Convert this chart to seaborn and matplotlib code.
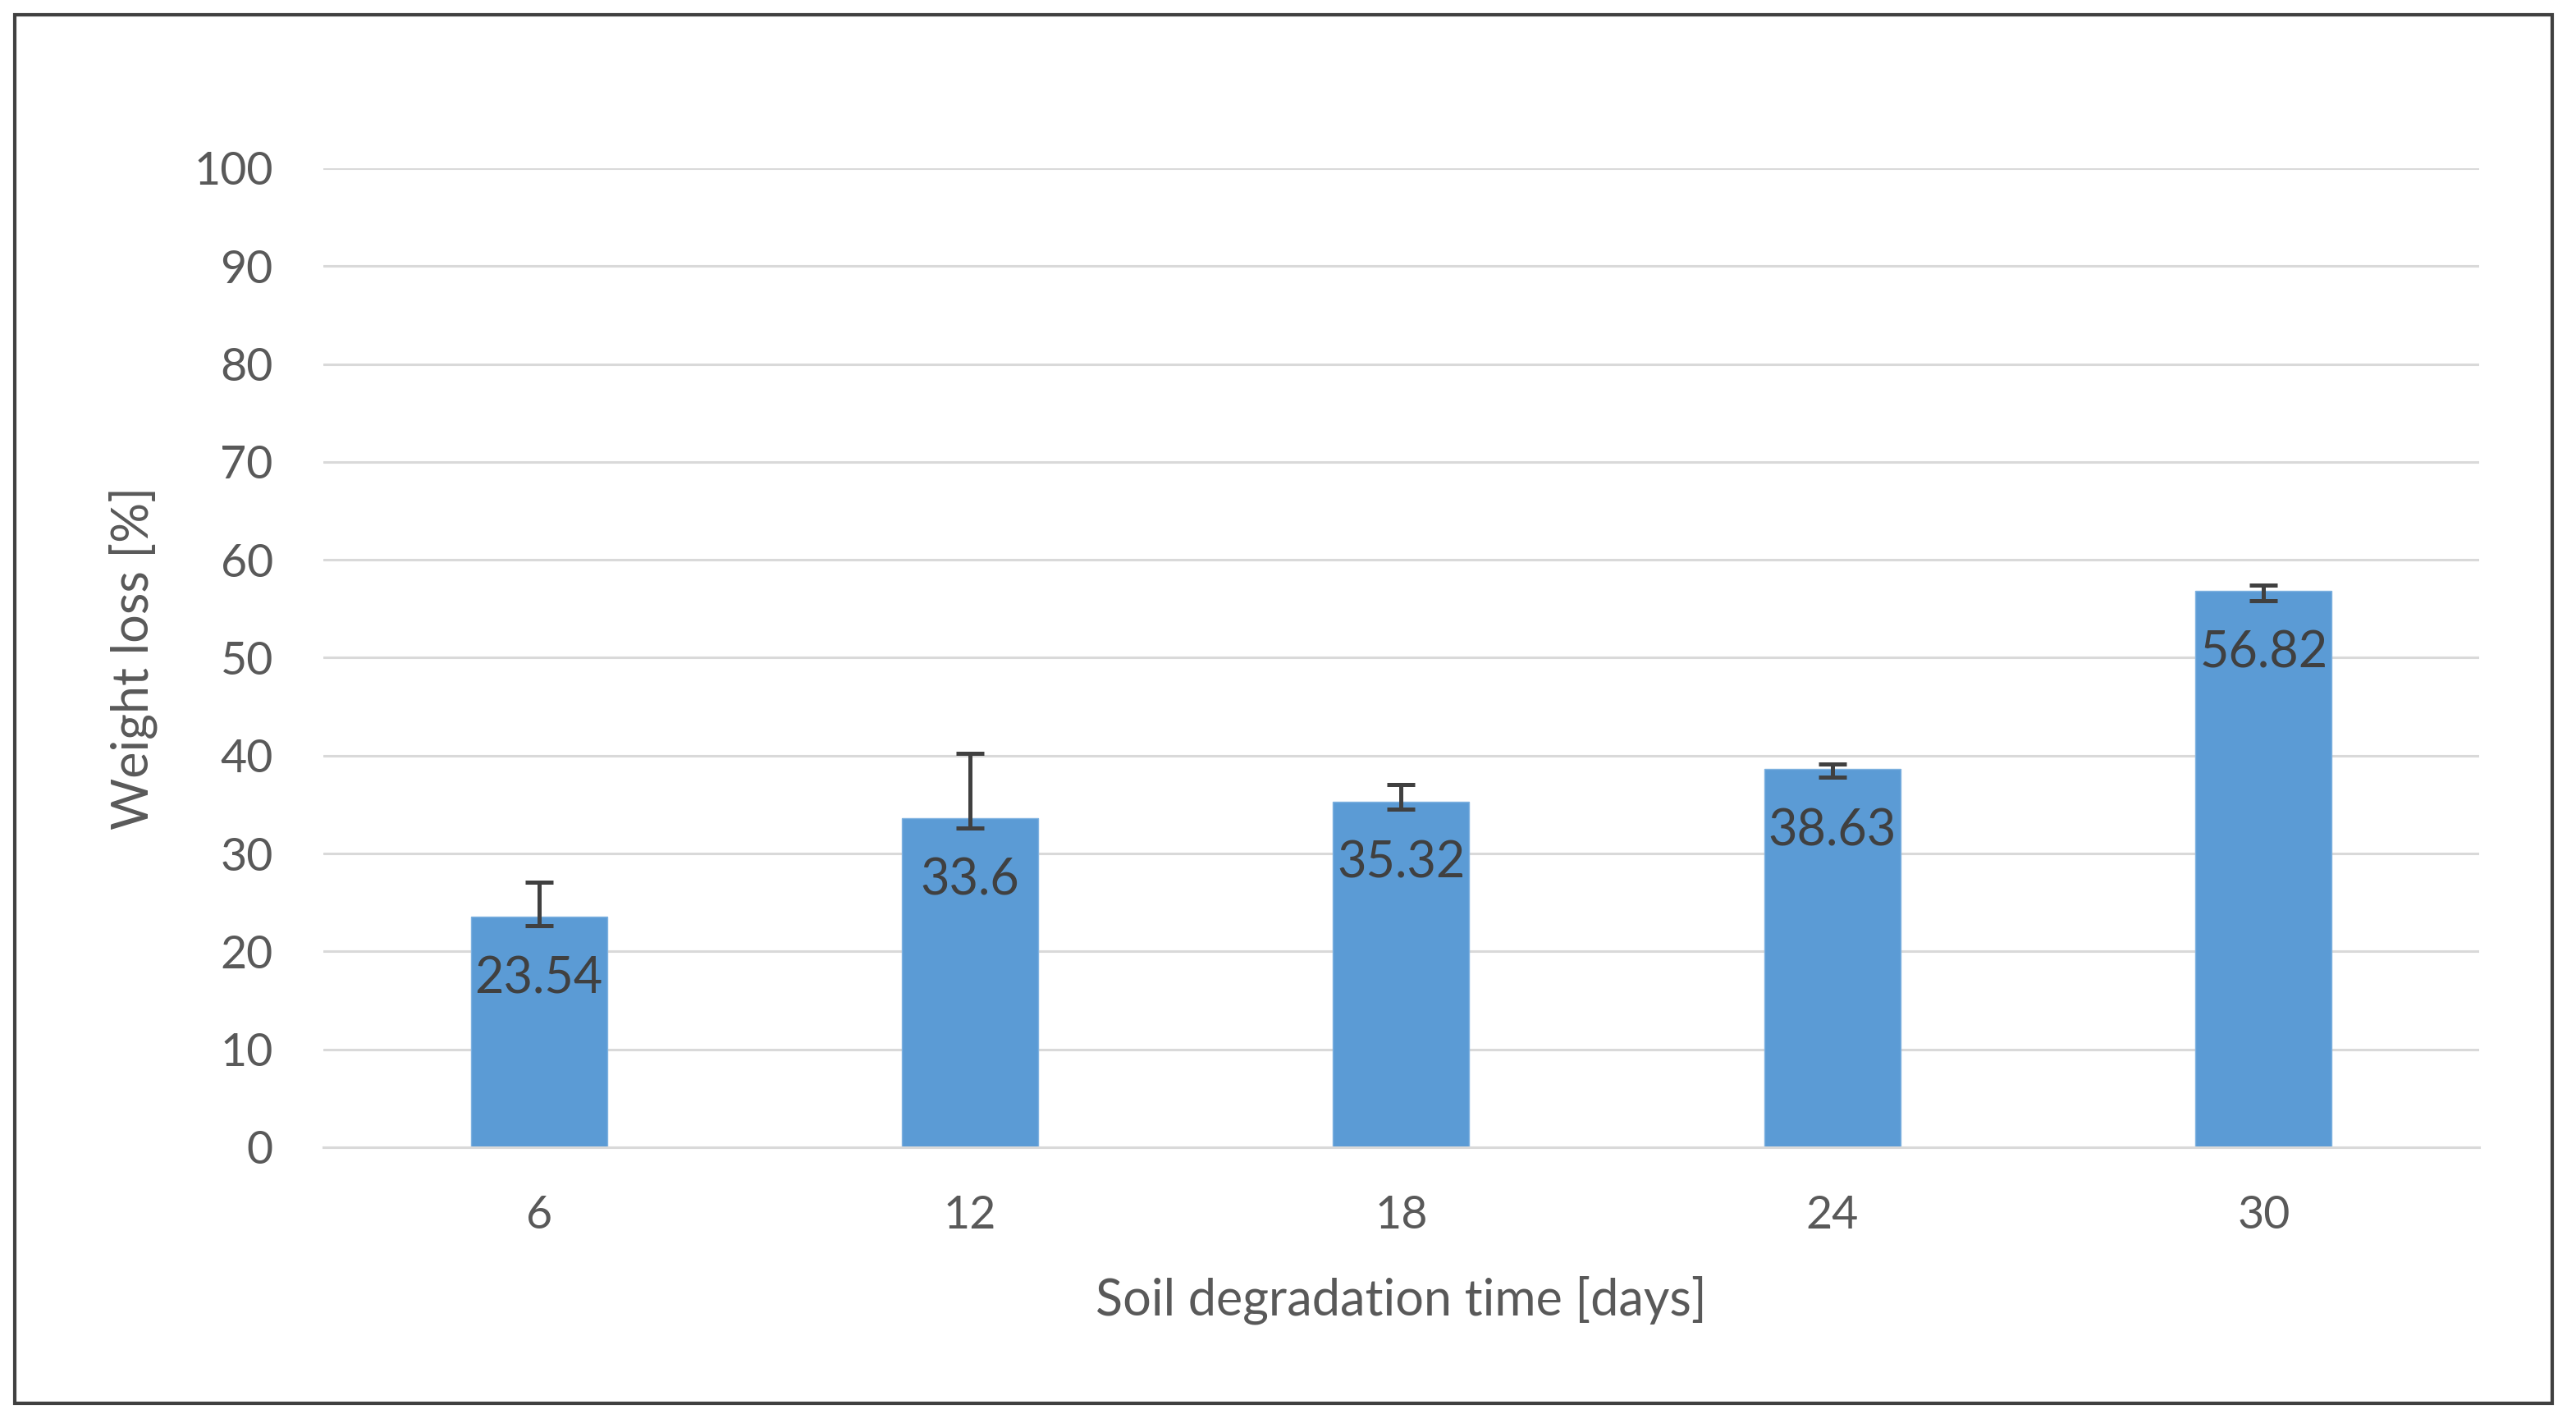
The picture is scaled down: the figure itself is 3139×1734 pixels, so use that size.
import matplotlib
matplotlib.use("Agg")
import matplotlib.pyplot as plt
import seaborn as sns
from matplotlib.patches import Rectangle

# Datos
dias = ["6", "12", "18", "24", "30"]
perdida_peso = [23.54, 33.6, 35.32, 38.63, 56.82]
err_inferior = [0.9, 1.0, 0.8, 0.8, 1.0]
err_superior = [3.5, 6.6, 1.7, 0.5, 0.6]
etiquetas = ["23.54", "33.6", "35.32", "38.63", "56.82"]
yticks = [0, 10, 20, 30, 40, 50, 60, 70, 80, 90, 100]

# Estilo
sns.set_theme(style="white")
plt.rcParams['font.family'] = ['Lato', 'DejaVu Sans']

color_barra = "#5B9BD5"
gris_texto = "#595959"
gris_grid = "#D9D9D9"

fig = plt.figure(figsize=(31.39, 17.34), dpi=100)
ax = fig.add_axes([0.1255, 0.1938, 0.8369, 0.688])

sns.barplot(x=dias, y=perdida_peso, color=color_barra, width=0.316,
            saturation=1, edgecolor="#7FB2E0", linewidth=1, ax=ax)

# Barras de error y etiquetas de datos
centros = [p.get_x() + p.get_width() / 2 for p in ax.patches]
ax.errorbar(centros, perdida_peso, yerr=[err_inferior, err_superior],
            fmt="none", ecolor="#404040", elinewidth=3.6, capsize=12.5,
            capthick=3.6, zorder=5)
for xc, v, t in zip(centros, perdida_peso, etiquetas):
    ax.annotate(t, (xc, v), xytext=(0, -34), textcoords="offset points",
                ha="center", va="top", fontsize=44, color="#404040", zorder=6)

ax.set_xlim(-0.5, len(dias) - 0.5)
ax.set_ylim(0, 100)
ax.set_yticks(yticks)
ax.yaxis.grid(True, color=gris_grid, linewidth=2.2)
ax.set_axisbelow(True)
for s in ["top", "right", "left"]:
    ax.spines[s].set_visible(False)
ax.spines["bottom"].set_color(gris_grid)
ax.spines["bottom"].set_linewidth(2.2)

ax.tick_params(axis="both", length=0, labelsize=40, labelcolor=gris_texto)
ax.tick_params(axis="y", pad=44)
ax.tick_params(axis="x", pad=42)

ax.set_xlabel("Soil degradation time [days]", fontsize=44, color=gris_texto)
ax.set_ylabel("Weight loss [%]", fontsize=44, color=gris_texto)
ax.yaxis.set_label_coords(-0.077, 0.5)
ax.xaxis.set_label_coords(0.5, -0.131)

# Marco exterior
fig.patches.append(Rectangle((0.0057, 0.0138), 0.9851, 0.9758,
                             transform=fig.transFigure, fill=False,
                             edgecolor="#404040", linewidth=3))

fig.savefig("out.png", dpi=100)
